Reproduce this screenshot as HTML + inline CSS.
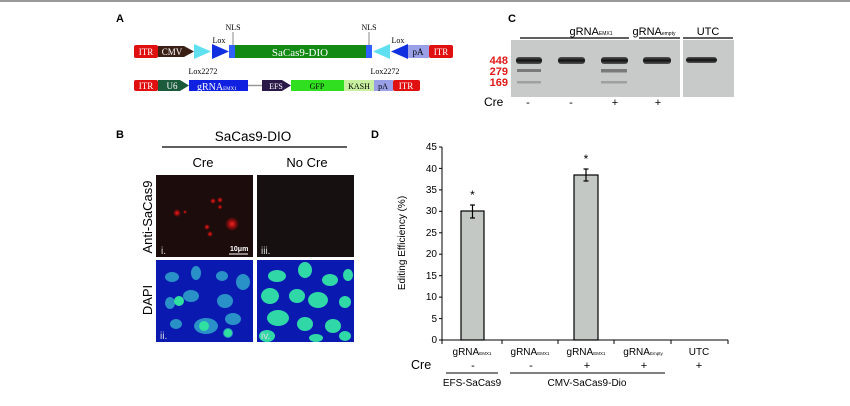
<!DOCTYPE html>
<html><head><style>
html,body{margin:0;padding:0;background:#fff;}
svg{display:block;font-family:"Liberation Sans",sans-serif;}
.s{font-family:"Liberation Serif",serif;}
</style></head><body>
<svg width="850" height="406" viewBox="0 0 850 406" xmlns="http://www.w3.org/2000/svg">
<defs>
<radialGradient id="rd" cx="0.5" cy="0.5" r="0.5"><stop offset="0" stop-color="#ff2020"/><stop offset="1" stop-color="#ff0000" stop-opacity="0"/></radialGradient>
<linearGradient id="band" x1="0" y1="0" x2="0" y2="1"><stop offset="0" stop-color="#555"/><stop offset="0.5" stop-color="#111"/><stop offset="1" stop-color="#555"/></linearGradient>
</defs>
<rect x="0" y="0" width="850" height="2" fill="#999"/>
<!-- Panel A -->
<text x="116" y="22" font-size="11" font-weight="bold">A</text>
<g class="s" font-size="11">
<rect x="134" y="45" width="24" height="13" fill="#e01010" rx="2"/>
<text x="146" y="55" fill="#fff" text-anchor="middle" font-size="9">ITR</text>
<polygon points="158,46 184,46 194,51.5 184,57 158,57" fill="#3a1f14"/>
<text x="172" y="55" fill="#fff" text-anchor="middle" font-size="9">CMV</text>
<polygon points="194,44 211,51.5 194,59" fill="#5fe0f0"/>
<polygon points="212,44 229,51.5 212,59" fill="#1030e0"/>
<rect x="229" y="45" width="6" height="13" fill="#3060ff"/>
<rect x="235" y="45" width="131" height="13" fill="#138a13"/>
<text x="300" y="56" fill="#fff" text-anchor="middle" font-size="11">SaCas9-DIO</text>
<rect x="366" y="45" width="6" height="13" fill="#3060ff"/>
<polygon points="390,44 373,51.5 390,59" fill="#5fe0f0"/>
<polygon points="408,44 391,51.5 408,59" fill="#1030e0"/>
<rect x="408" y="45" width="21" height="13" fill="#9aa0e8"/>
<text x="418" y="55" text-anchor="middle" font-size="9">pA</text>
<rect x="429" y="45" width="24" height="13" fill="#e01010" rx="2"/>
<text x="441" y="55" fill="#fff" text-anchor="middle" font-size="9">ITR</text>
<line x1="233" y1="32" x2="233" y2="45" stroke="#888"/>
<line x1="369" y1="32" x2="369" y2="45" stroke="#888"/>
<text x="233" y="30" text-anchor="middle" font-size="8">NLS</text>
<text x="369" y="30" text-anchor="middle" font-size="8">NLS</text>
<text x="219" y="43" text-anchor="middle" font-size="8">Lox</text>
<text x="398" y="43" text-anchor="middle" font-size="8">Lox</text>
<text x="203" y="74" text-anchor="middle" font-size="8">Lox2272</text>
<text x="385" y="74" text-anchor="middle" font-size="8">Lox2272</text>
<rect x="134" y="80" width="24" height="11" fill="#e01010" rx="2"/>
<text x="146" y="89" fill="#fff" text-anchor="middle" font-size="9">ITR</text>
<polygon points="158,80 180,80 189,85.5 180,91 158,91" fill="#1c5a3c"/>
<text x="172" y="89" fill="#fff" text-anchor="middle" font-size="9">U6</text>
<rect x="189" y="80" width="59" height="11" fill="#1020e0"/>
<text x="197" y="90" fill="#fff" font-size="10">gRNA<tspan font-size="5">EMX1</tspan></text>
<line x1="248" y1="85.5" x2="262" y2="85.5" stroke="#999" stroke-width="1.5"/>
<polygon points="262,80 282,80 291,85.5 282,91 262,91" fill="#2a1848"/>
<text x="276" y="89" fill="#fff" text-anchor="middle" font-size="8">EFS</text>
<rect x="291" y="80" width="53" height="11" fill="#30e020"/>
<text x="317" y="89" text-anchor="middle" font-size="8">GFP</text>
<rect x="344" y="80" width="30" height="11" fill="#c8f0a0"/>
<text x="359" y="89" text-anchor="middle" font-size="8">KASH</text>
<rect x="374" y="80" width="19" height="11" fill="#9aa0e8"/>
<text x="383" y="89" text-anchor="middle" font-size="8">pA</text>
<rect x="393" y="80" width="27" height="11" fill="#e01010" rx="2"/>
<text x="406" y="89" fill="#fff" text-anchor="middle" font-size="9">ITR</text>
</g>
<!-- Panel C -->
<text x="508" y="22" font-size="11" font-weight="bold">C</text>
<text x="591" y="35" font-size="11" text-anchor="middle">gRNA<tspan font-size="5">EMX1</tspan></text>
<line x1="520" y1="38" x2="629" y2="38" stroke="#000" stroke-width="1.3"/>
<text x="654" y="35" font-size="11" text-anchor="middle">gRNA<tspan font-size="5">empty</tspan></text>
<line x1="639" y1="38" x2="680" y2="38" stroke="#000" stroke-width="1.3"/>
<text x="708" y="35" font-size="11" text-anchor="middle">UTC</text>
<line x1="683" y1="38" x2="733" y2="38" stroke="#000" stroke-width="1.3"/>
<rect x="511" y="40" width="169" height="57" fill="#c8caca"/>
<rect x="683" y="40" width="51" height="57" fill="#c8caca"/>
<g fill="url(#band)">
<rect x="516" y="57" width="26" height="7" rx="3"/>
<rect x="558" y="57" width="27" height="7" rx="3"/>
<rect x="601" y="57" width="27" height="7" rx="3"/>
<rect x="643" y="57" width="28" height="7" rx="3"/>
<rect x="686" y="57" width="31" height="6" rx="3"/>
</g>
<g fill="#7a7a7a">
<rect x="517" y="69" width="24" height="3"/>
<rect x="601" y="69" width="26" height="3.5"/>
</g>
<g fill="#a0a0a0">
<rect x="517" y="81" width="24" height="2.5"/>
<rect x="601" y="81" width="26" height="2.5"/>
</g>
<g fill="#e01818" font-size="11" font-weight="bold" text-anchor="end">
<text x="508" y="64">448</text><text x="508" y="75">279</text><text x="508" y="86">169</text>
</g>
<text x="484" y="106" font-size="12">Cre</text>
<g font-size="11" text-anchor="middle"><text x="528" y="106">-</text><text x="571" y="106">-</text><text x="615" y="106">+</text><text x="658" y="106">+</text></g>
<!-- Panel B -->
<text x="116" y="138" font-size="11" font-weight="bold">B</text>
<text x="253" y="141" font-size="13.5" text-anchor="middle">SaCas9-DIO</text>
<line x1="162" y1="147" x2="347" y2="147" stroke="#000" stroke-width="1.2"/>
<text x="203" y="167" font-size="13" text-anchor="middle">Cre</text>
<text x="307" y="167" font-size="13" text-anchor="middle">No Cre</text>
<text transform="translate(152,217) rotate(-90)" font-size="13" text-anchor="middle">Anti-SaCas9</text>
<text transform="translate(152,300) rotate(-90)" font-size="13" text-anchor="middle">DAPI</text>
<rect x="156" y="175" width="97" height="82" fill="#1c0c0c"/>
<g fill="url(#rd)">
<circle cx="177" cy="213" r="4"/><circle cx="213" cy="201" r="3"/><circle cx="220" cy="200" r="3"/><circle cx="220" cy="207" r="2.5"/>
<circle cx="207" cy="227" r="3"/><circle cx="210" cy="234" r="3"/><circle cx="232" cy="224" r="7"/><circle cx="185" cy="212" r="2"/>
</g>
<text x="161" y="254" fill="#ddd" font-size="10">i.</text>
<text x="230" y="251" fill="#fff" font-size="7" font-weight="bold">10μm</text>
<line x1="229" y1="254" x2="248" y2="254" stroke="#fff"/>
<rect x="257" y="175" width="97" height="82" fill="#161010"/>
<text x="261" y="254" fill="#ddd" font-size="10">iii.</text>
<rect x="156" y="260" width="97" height="82" fill="#0a1ab0"/>
<g fill="#2a90c8">
<ellipse cx="172" cy="277" rx="7" ry="5"/><ellipse cx="196" cy="273" rx="5" ry="7"/><ellipse cx="222" cy="276" rx="6" ry="5"/><ellipse cx="243" cy="282" rx="7" ry="8"/>
<ellipse cx="191" cy="296" rx="8" ry="6"/><ellipse cx="225" cy="301" rx="8" ry="7"/><ellipse cx="170" cy="303" rx="5" ry="6"/><ellipse cx="206" cy="326" rx="12" ry="8"/>
<ellipse cx="176" cy="324" rx="6" ry="5"/><ellipse cx="233" cy="319" rx="8" ry="6"/><ellipse cx="228" cy="333" rx="5" ry="5"/>
</g>
<g fill="#30e0a0"><circle cx="179" cy="301" r="5"/><circle cx="204" cy="326" r="5"/><circle cx="228" cy="333" r="4"/></g>
<text x="160" y="339" fill="#ddd" font-size="10">ii.</text>
<rect x="257" y="260" width="97" height="82" fill="#0a1ab0"/>
<g fill="#30d8a8">
<ellipse cx="277" cy="276" rx="9" ry="6"/><ellipse cx="305" cy="270" rx="7" ry="8"/><ellipse cx="330" cy="280" rx="8" ry="6"/><ellipse cx="348" cy="275" rx="5" ry="6"/>
<ellipse cx="270" cy="296" rx="9" ry="8"/><ellipse cx="297" cy="296" rx="8" ry="7"/><ellipse cx="318" cy="300" rx="10" ry="8"/><ellipse cx="345" cy="302" rx="6" ry="6"/>
<ellipse cx="278" cy="318" rx="11" ry="8"/><ellipse cx="305" cy="324" rx="8" ry="7"/><ellipse cx="333" cy="326" rx="8" ry="7"/>
<ellipse cx="267" cy="336" rx="8" ry="6"/><ellipse cx="316" cy="338" rx="7" ry="4"/><ellipse cx="345" cy="336" rx="6" ry="5"/>
</g>
<text x="261" y="339" fill="#ddd" font-size="10">iv.</text>
<!-- Panel D -->
<text x="371" y="138" font-size="11" font-weight="bold">D</text>
<g font-size="10" text-anchor="end">
<text x="437" y="150">45</text><text x="437" y="172">40</text><text x="437" y="193">35</text><text x="437" y="214">30</text><text x="437" y="236">25</text><text x="437" y="257">20</text><text x="437" y="279">15</text><text x="437" y="300">10</text><text x="437" y="322">5</text><text x="437" y="343">0</text>
</g>
<g stroke="#000" stroke-width="1">
<line x1="442" y1="147" x2="442" y2="340"/>
<line x1="442" y1="340" x2="728" y2="340"/>
<line x1="439" y1="147" x2="442" y2="147"/><line x1="439" y1="168.4" x2="442" y2="168.4"/><line x1="439" y1="189.9" x2="442" y2="189.9"/><line x1="439" y1="211.3" x2="442" y2="211.3"/><line x1="439" y1="232.8" x2="442" y2="232.8"/><line x1="439" y1="254.2" x2="442" y2="254.2"/><line x1="439" y1="275.7" x2="442" y2="275.7"/><line x1="439" y1="297.1" x2="442" y2="297.1"/><line x1="439" y1="318.6" x2="442" y2="318.6"/><line x1="439" y1="340" x2="442" y2="340"/>
<line x1="502" y1="340" x2="502" y2="344"/><line x1="558" y1="340" x2="558" y2="344"/><line x1="614" y1="340" x2="614" y2="344"/><line x1="671" y1="340" x2="671" y2="344"/><line x1="728" y1="340" x2="728" y2="344"/><line x1="442" y1="340" x2="442" y2="344"/>
</g>
<rect x="461" y="211" width="23" height="129" fill="#c4c8c4" stroke="#000" stroke-width="1.2"/>
<rect x="574" y="175" width="24" height="165" fill="#c4c8c4" stroke="#000" stroke-width="1.2"/>
<g stroke="#000" stroke-width="1.2">
<line x1="472.5" y1="205" x2="472.5" y2="218"/><line x1="470" y1="205" x2="475" y2="205"/><line x1="470" y1="218" x2="475" y2="218"/>
<line x1="586" y1="169" x2="586" y2="181"/><line x1="583.5" y1="169" x2="588.5" y2="169"/><line x1="583.5" y1="181" x2="588.5" y2="181"/>
</g>
<text x="472.5" y="199" font-size="12" text-anchor="middle">*</text>
<text x="586" y="163" font-size="12" text-anchor="middle">*</text>
<text transform="translate(405,243) rotate(-90)" font-size="10" text-anchor="middle">Editing Efficiency (%)</text>
<g font-size="10" text-anchor="middle">
<text x="472" y="355">gRNA<tspan font-size="4.5">EMX1</tspan></text>
<text x="530" y="355">gRNA<tspan font-size="4.5">EMX1</tspan></text>
<text x="586" y="355">gRNA<tspan font-size="4.5">EMX1</tspan></text>
<text x="643" y="355">gRNA<tspan font-size="4.5">Empty</tspan></text>
<text x="699" y="355">UTC</text>
</g>
<text x="411" y="369" font-size="12.5">Cre</text>
<g font-size="11" text-anchor="middle"><text x="473" y="369">-</text><text x="531" y="369">-</text><text x="587" y="369">+</text><text x="644" y="369">+</text><text x="699" y="369">+</text></g>
<line x1="446" y1="373" x2="498" y2="373" stroke="#000"/>
<line x1="510" y1="373" x2="665" y2="373" stroke="#000"/>
<text x="472" y="386" font-size="10" text-anchor="middle">EFS-SaCas9</text>
<text x="587" y="386" font-size="10" text-anchor="middle">CMV-SaCas9-Dio</text>
</svg>
</body></html>
